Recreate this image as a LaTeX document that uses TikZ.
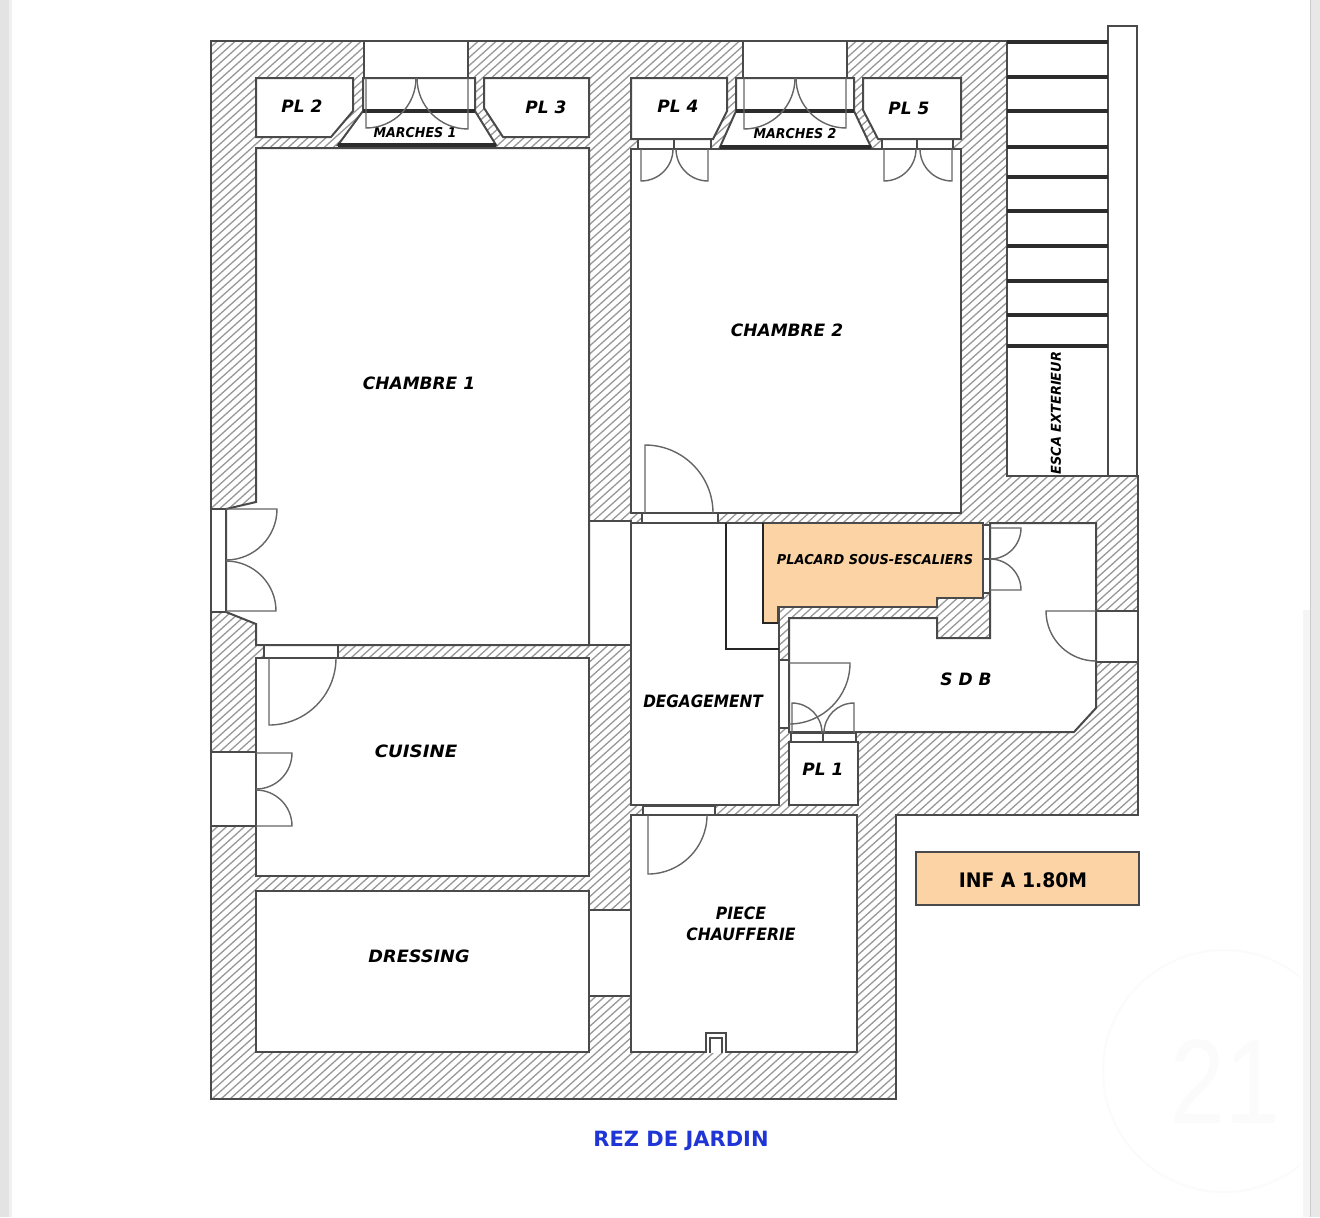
\documentclass[tikz,border=0pt]{standalone}
\usepackage{fontspec}
\setmainfont{DejaVu Sans}
\newfontfamily\markfont{Liberation Sans}
\usetikzlibrary{calc}
\definecolor{ink}{HTML}{4A4A4A}
\definecolor{hatchc}{HTML}{989898}
\definecolor{peach}{HTML}{FBD3A4}
\definecolor{titleblue}{HTML}{1F35D6}
\newcommand{\doorleaf}[5]{% hinge x, hinge y, radius px, leaf angle, end angle
  \draw[leaf] (#1,#2) -- ++(#4:{#3*0.5pt}) arc[start angle=#4,end angle=#5,radius={#3*0.5pt}];}
\tikzset{
  x=0.5pt,y=-0.5pt,
  wall/.style={draw=ink,line width=1pt,line join=miter},
  room/.style={fill=white,draw=ink,line width=1pt,line join=miter},
  opening/.style={fill=white,draw=ink,line width=0.8pt},
  leaf/.style={draw=ink!85,line width=0.7pt},
  tread/.style={draw=ink!60!black,line width=1.8pt},
  heavy/.style={draw=black!85,line width=1.4pt},
  hatchline/.style={draw=hatchc,line width=0.65pt},
  lab/.style={font=\bfseries\itshape\fontsize{8.5}{10.5}\selectfont,text=black,inner sep=0pt,align=center},
  smalllab/.style={lab,font=\bfseries\itshape\fontsize{6.8}{8}\selectfont},
}
\begin{document}
\begin{tikzpicture}
\useasboundingbox (0,0) rectangle (1320,1217);
\fill[white] (0,0) rectangle (1320,1217);
\fill[black!11] (0,0) rectangle (9,1217);
\fill[black!6] (9,0) rectangle (12,1217);
\fill[black!4] (1303,610) rectangle (1310,1217);
\fill[black!9] (1310,0) rectangle (1320,1217);
\fill[black!20] (1309.5,0) rectangle (1311,1217);
% watermark
\begin{scope}
\clip (1090,940) rectangle (1300,1200);
\draw[black!1.5,line width=1pt] (1224,1071) circle[radius=60.5pt];
\node[black!1.5,font=\markfont\fontsize{60}{60}\selectfont,inner sep=0pt,xscale=0.82] (mark) at (1225,1082) {21};
\end{scope}
% ---- hatched building
\begin{scope}
\clip (211,41) -- (1007,41) -- (1007,476) -- (1138,476) -- (1138,815) -- (896,815) -- (896,1099) -- (211,1099) -- cycle;
\foreach \s in {200,209,...,2500} { \draw[hatchline] (\s,0) -- ++(-1500,1350); }
\end{scope}
\draw[wall] (211,41) -- (1007,41) -- (1007,476) -- (1138,476) -- (1138,815) -- (896,815) -- (896,1099) -- (211,1099) -- cycle;
% ---- exterior stairs
\path[room] (1007,41) rectangle (1108,476);
\path[room] (1108,26) rectangle (1137,476);
\foreach \y in {42,77,111,147,177,211,246,281,315,346} { \draw[tread] (1007,\y) -- (1108,\y); }
% ---- openings in walls
\path[opening] (364,41) rectangle (468,78);
\path[opening] (743,41) rectangle (847,78);
\path[opening] (589,521) rectangle (631,645);
\path[opening] (589,910) rectangle (631,996);
\path[opening] (211,509) rectangle (226,612);
\path[opening] (211,752) rectangle (256,826);
\path[opening] (1096,611) rectangle (1138,662);
\path[opening] (264,645) rectangle (338,658);
\path[opening] (642,513) rectangle (718,523);
\path[opening] (643,806) rectangle (715,815);
\path[opening] (638,139) rectangle (711,149);
\path[opening] (882,139) rectangle (953,149);
\path[opening] (983,525) rectangle (990,593);
\path[opening] (779,660) rectangle (789,728);
\path[opening] (791,733) rectangle (856,742);
\draw[opening] (674,139) -- (674,149) (917,139) -- (917,149) (983,559) -- (990,559) (823,733) -- (823,742);
% ---- rooms
\path[room] (256,148) -- (589,148) -- (589,645) -- (264,645) -- (256,645) -- (256,624) -- (226,612) -- (226,509) -- (256,502) -- cycle;
\node[lab] (ch1) at (419,383) {CHAMBRE 1};
\path[room] (631,149) rectangle (961,513);
\node[lab] (ch2) at (787,330) {CHAMBRE 2};
\path[room] (256,658) rectangle (589,876);
\node[lab,xscale=1.07] (cui) at (416,751) {CUISINE};
\path[room] (256,891) rectangle (589,1052);
\node[lab,xscale=1.04] (dre) at (419,956) {DRESSING};
\path[room] (631,815) rectangle (857,1052);
\node[lab,text width=140pt,xscale=0.92] (chf) at (741,924) {PIECE\\[0.1pt]CHAUFFERIE};
\path[room] (631,523) rectangle (779,805);
\node[lab,xscale=0.9] (deg) at (703,701) {DEGAGEMENT};
\path[room] (256,78) -- (353,78) -- (353,111) -- (331,137) -- (256,137) -- cycle;
\node[lab] (pl2) at (302,106) {PL 2};
\path[room] (484,78) -- (589,78) -- (589,137) -- (503,137) -- (484,108) -- cycle;
\node[lab] (pl3) at (546,107) {PL 3};
\path[room] (631,78) -- (727,78) -- (727,111) -- (713,139) -- (631,139) -- cycle;
\node[lab] (pl4) at (678,106) {PL 4};
\path[room] (863,78) -- (961,78) -- (961,139) -- (878,139) -- (863,110) -- cycle;
\node[lab] (pl5) at (909,108) {PL 5};
\path[room] (789,742) rectangle (858,805);
\node[lab] (pl1) at (823,769) {PL 1};
\path[room] (990,523) -- (1096,523) -- (1096,708) -- (1074,732) -- (789,732) -- (789,618) -- (937,618) -- (937,638) -- (990,638) -- cycle;
\node[lab] (sdb) at (966,679) {S D B};
% marches
\path[room] (363,78) -- (475,78) -- (475,111) -- (496,145) -- (338,145) -- (363,111) -- cycle;
\path[room] (736,78) -- (854,78) -- (854,111) -- (871,147) -- (720,147) -- (736,111) -- cycle;
\draw[tread] (363,111) -- (475,111) (338,145) -- (496,145);
\draw[tread] (736,111) -- (854,111) (720,147) -- (871,147);
\node[smalllab,xscale=0.93] (m1) at (415,133) {MARCHES 1};
\node[smalllab,xscale=0.93] (m2) at (795,134) {MARCHES 2};
% placard
\path[fill=peach,draw=ink,line width=1pt] (763,523) -- (983,523) -- (983,598) -- (937,598) -- (937,607) -- (778,607) -- (778,623) -- (763,623) -- cycle;
\draw[heavy] (763,523) -- (763,623) -- (778,623);
\draw[heavy] (726,523) -- (726,649) -- (779,649);
\node[smalllab,xscale=0.95] (pla) at (875,560) {PLACARD SOUS-ESCALIERS};
% chimney
\draw[wall,line width=0.9pt,fill=white] (706,1053) -- (706,1033) -- (726,1033) -- (726,1053);
\draw[wall,line width=0.7pt] (710,1053) -- (710,1038) -- (722,1038) -- (722,1053);
% doors
\doorleaf{226}{509}{51}{0}{-90}
\doorleaf{226}{611}{50}{0}{90}
\doorleaf{269}{658}{67}{-90}{0}
\doorleaf{256}{753}{36}{0}{-90}
\doorleaf{256}{826}{36}{0}{90}
\doorleaf{648}{815}{59}{-90}{0}
\doorleaf{645}{513}{68}{90}{0}
\doorleaf{366}{78}{50}{-90}{0}
\doorleaf{468}{78}{51}{-90}{-180}
\doorleaf{744}{78}{51}{-90}{0}
\doorleaf{846}{78}{50}{-90}{-180}
\doorleaf{641}{149}{32}{-90}{0}
\doorleaf{708}{149}{32}{-90}{-180}
\doorleaf{884}{149}{32}{-90}{0}
\doorleaf{952}{149}{32}{-90}{-180}
\doorleaf{990}{528}{31}{0}{-90}
\doorleaf{990}{590}{31}{0}{90}
\doorleaf{1096}{611}{50}{180}{270}
\doorleaf{789}{663}{61}{0}{-90}
\doorleaf{792}{733}{30}{90}{0}
\doorleaf{854}{733}{30}{90}{180}
% exterior stair label
\node[smalllab,rotate=90,xscale=0.95] (esc) at (1056,413) {ESCA EXTERIEUR};
% legend and title
\node[draw=ink,fill=peach,line width=0.8pt,minimum width=111.5pt,minimum height=26.5pt,inner sep=0pt] (inf) at (1027.5,878.5) {};
\node[font=\bfseries\fontsize{10}{12}\selectfont,inner sep=0pt,xscale=0.94] (inftxt) at (1023,880) {INF A 1.80M};
\node[font=\bfseries\fontsize{10.5}{12}\selectfont,text=titleblue,inner sep=0pt] (title) at (681,1141) {REZ DE JARDIN};
\end{tikzpicture}
\end{document}
